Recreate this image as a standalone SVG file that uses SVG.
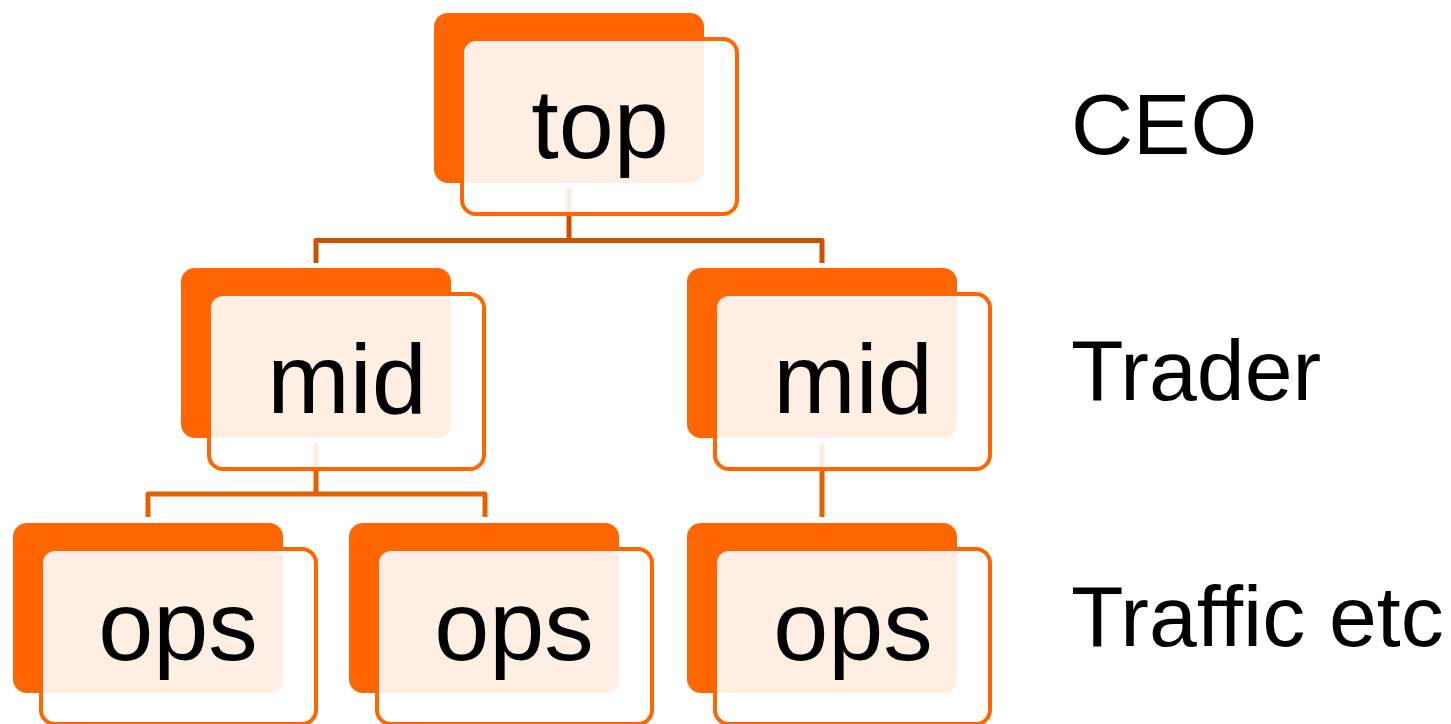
<svg xmlns="http://www.w3.org/2000/svg" width="1451" height="724" viewBox="0 0 1451 724">
  <style>
    .back { fill: #FF6600; }
    .front { fill: #FFFFFF; fill-opacity: 0.89; stroke: #FF6600; stroke-width: 4; }
    .name { font-family: "Liberation Sans", Arial, sans-serif; font-size: 99px; fill: #000000; text-anchor: middle; }
    .role { font-family: "Liberation Sans", Arial, sans-serif; font-size: 86px; fill: #000000; }
    .link { fill: none; stroke-width: 5; stroke-linejoin: round; }
    .l1 { stroke: #CC5200; }
    .l2 { stroke: #E85F00; }
  </style>
  <defs>
    <!-- one org-chart box: solid back card plus outlined front card -->
    <g id="card">
      <rect class="back" x="0" y="0" width="270" height="170" rx="14"/>
      <rect class="front" x="28" y="26" width="275" height="175" rx="14"/>
    </g>
  </defs>

  <g id="connectors">
    <path class="link l1" d="M569 188 V240.5 M316 263 V240.5 H822 V263"/>
    <path class="link l2" d="M316 443 V494 M148 517 V494 H485 V517"/>
    <path class="link l2" d="M822 443 V517"/>
  </g>

  <g id="node-top">
    <use href="#card" x="434" y="13"/>
    <text class="name" x="600" y="158">top</text>
  </g>
  <g id="node-mid-left">
    <use href="#card" x="181" y="268"/>
    <text class="name" x="347" y="413">mid</text>
  </g>
  <g id="node-mid-right">
    <use href="#card" x="687" y="268"/>
    <text class="name" x="853" y="413">mid</text>
  </g>
  <g id="node-ops-1">
    <use href="#card" x="13" y="523"/>
    <text class="name" x="178" y="660">ops</text>
  </g>
  <g id="node-ops-2">
    <use href="#card" x="349" y="523"/>
    <text class="name" x="514" y="660">ops</text>
  </g>
  <g id="node-ops-3">
    <use href="#card" x="687" y="523"/>
    <text class="name" x="853" y="660">ops</text>
  </g>

  <g id="roles">
    <text class="role" x="1071" y="154">CEO</text>
    <text class="role" x="1071" y="400">Trader</text>
    <text class="role" x="1071" y="646">Traffic etc</text>
  </g>
</svg>
